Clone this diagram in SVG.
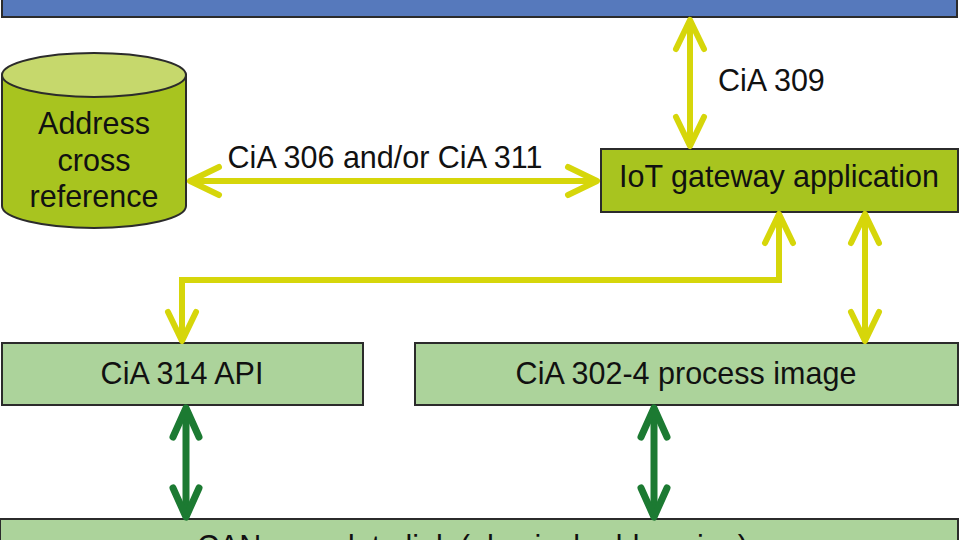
<svg xmlns="http://www.w3.org/2000/svg" width="960" height="540" viewBox="0 0 960 540">
  <style>
    .lbl { font-family: "Liberation Sans", Arial, sans-serif; font-size: 30.5px; fill: #111; }
    .mid { text-anchor: middle; }
    .box { stroke: #2b2b2b; stroke-width: 2; }
    .lime { fill: #a8c41f; }
    .pale { fill: #acd39b; }
    .yl { fill: none; stroke: #d6d60a; stroke-width: 6; }
    .gr { fill: none; stroke: #1c7a32; stroke-width: 7; }
  </style>
  <defs>
    <marker id="ay" markerUnits="userSpaceOnUse" viewBox="-36 -18 40 36" refX="0" refY="0" markerWidth="40" markerHeight="36" orient="auto-start-reverse" overflow="visible">
      <path d="M-29,-14 L0,0 L-29,14" fill="none" stroke="#d6d60a" stroke-width="6" stroke-linecap="round" stroke-linejoin="round"/>
    </marker>
    <marker id="ag" markerUnits="userSpaceOnUse" viewBox="-36 -18 40 36" refX="0" refY="0" markerWidth="40" markerHeight="36" orient="auto-start-reverse" overflow="visible">
      <path d="M-29,-13 L0,0 L-29,13" fill="none" stroke="#1c7a32" stroke-width="7" stroke-linecap="round" stroke-linejoin="round"/>
    </marker>
  </defs>
  <rect width="960" height="540" fill="#ffffff"/>

  <g id="top-bar">
    <rect class="box" x="2" y="-6" width="955" height="23" fill="#5679bc"/>
  </g>

  <g id="address-cross-reference">
    <path class="box lime" d="M2,75 V206 A92,22 0 0 0 186,206 V75 Z"/>
    <ellipse class="box" cx="94" cy="75" rx="92" ry="22" fill="#c6d86c"/>
    <text class="lbl mid" x="94" y="134">Address</text>
    <text class="lbl mid" x="94" y="171">cross</text>
    <text class="lbl mid" x="94" y="207">reference</text>
  </g>

  <g id="iot-gateway">
    <rect class="box lime" x="601" y="149" width="357" height="63"/>
    <text class="lbl mid" x="779" y="187">IoT gateway application</text>
  </g>

  <g id="cia314">
    <rect class="box pale" x="2" y="343" width="361" height="62"/>
    <text class="lbl mid" x="182" y="384">CiA 314 API</text>
  </g>

  <g id="cia302-4">
    <rect class="box pale" x="415" y="343" width="543" height="62"/>
    <text class="lbl mid" x="686" y="384">CiA 302-4 process image</text>
  </g>

  <g id="can-link">
    <rect class="box pale" x="0" y="519" width="958" height="30"/>
    <text class="lbl" x="197" y="557">CANopen data link (physical addressing)</text>
  </g>

  <g id="connectors">
    <path class="yl" d="M190,181 H597" marker-start="url(#ay)" marker-end="url(#ay)"/>
    <path class="yl" d="M690,20 V146" marker-start="url(#ay)" marker-end="url(#ay)"/>
    <path class="yl" d="M779,214 V280 H182 V341" marker-start="url(#ay)" marker-end="url(#ay)"/>
    <path class="yl" d="M865,214 V341" marker-start="url(#ay)" marker-end="url(#ay)"/>
    <path class="gr" d="M186,408 V517" marker-start="url(#ag)" marker-end="url(#ag)"/>
    <path class="gr" d="M654,408 V517" marker-start="url(#ag)" marker-end="url(#ag)"/>
    <text class="lbl mid" x="385" y="168">CiA 306 and/or CiA 311</text>
    <text class="lbl" x="718" y="91">CiA 309</text>
  </g>
</svg>
